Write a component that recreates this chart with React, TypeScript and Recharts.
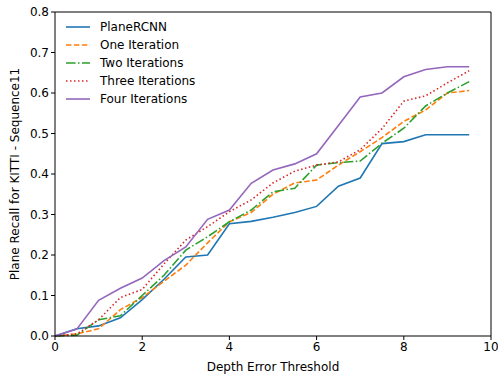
import React from "react";
import { LineChart, Line, XAxis, YAxis, ReferenceLine, Label } from "recharts";

const thresholds = [0, 0.5, 1, 1.5, 2, 2.5, 3, 3.5, 4, 4.5, 5, 5.5, 6, 6.5, 7, 7.5, 8, 8.5, 9, 9.5];
const planeRcnn = [0, 0.018, 0.025, 0.045, 0.09, 0.14, 0.195, 0.2, 0.277, 0.283, 0.293, 0.305, 0.32, 0.37, 0.39, 0.475, 0.48, 0.497, 0.497, 0.497];
const oneIter = [0, 0.005, 0.018, 0.065, 0.095, 0.135, 0.175, 0.23, 0.282, 0.305, 0.35, 0.378, 0.385, 0.422, 0.455, 0.49, 0.53, 0.558, 0.6, 0.606];
const twoIter = [0, 0.002, 0.04, 0.05, 0.1, 0.15, 0.212, 0.245, 0.282, 0.311, 0.356, 0.365, 0.422, 0.428, 0.432, 0.476, 0.513, 0.568, 0.6, 0.628];
const threeIter = [0, 0.005, 0.04, 0.095, 0.115, 0.178, 0.237, 0.27, 0.307, 0.336, 0.378, 0.407, 0.422, 0.43, 0.46, 0.512, 0.58, 0.593, 0.625, 0.655];
const fourIter = [0, 0.017, 0.088, 0.118, 0.143, 0.186, 0.22, 0.288, 0.311, 0.377, 0.41, 0.425, 0.45, 0.52, 0.59, 0.6, 0.64, 0.658, 0.665, 0.665];

const xTicks = [0, 2, 4, 6, 8, 10];
const yTicks = [0, 0.1, 0.2, 0.3, 0.4, 0.5, 0.6, 0.7, 0.8];

const data = thresholds.map((t, i) => ({
  t,
  plane: planeRcnn[i],
  one: oneIter[i],
  two: twoIter[i],
  three: threeIter[i],
  four: fourIter[i],
}));

const series = [
  { key: "plane", name: "PlaneRCNN", color: "#1f77b4", dash: undefined },
  { key: "one", name: "One Iteration", color: "#ff7f0e", dash: "5.5 2.4" },
  { key: "two", name: "Two Iterations", color: "#2ca02c", dash: "9.6 2.4 1.5 2.4" },
  { key: "three", name: "Three Iterations", color: "#d62728", dash: "1.5 2.5" },
  { key: "four", name: "Four Iterations", color: "#9467bd", dash: undefined },
];

const font = "'DejaVu Sans', sans-serif";

// matplotlib-style legend, drawn over the plot area
function LegendBox() {
  return (
    <div style={{ position: "absolute", left: 66, top: 18, fontFamily: font, fontSize: 12, color: "#000", pointerEvents: "none" }}>
      {series.map((s) => (
        <div key={s.key} style={{ display: "flex", alignItems: "center", height: 18 }}>
          <svg width={24} height={6} style={{ marginRight: 10 }}>
            <line x1={0} y1={3} x2={24} y2={3} stroke={s.color} strokeWidth={1.6} strokeDasharray={s.dash} />
          </svg>
          <span>{s.name}</span>
        </div>
      ))}
    </div>
  );
}

export default function App() {
  const tick = { fill: "#000", fontSize: 12, fontFamily: font };
  return (
    <div style={{ position: "fixed", left: 0, top: 0, width: 498, height: 378, background: "#fff" }}>
      <LineChart width={498} height={378} data={data} margin={{ top: 12, right: 7, left: 0, bottom: 0 }}>
        <XAxis
          dataKey="t"
          type="number"
          domain={[0, 10]}
          ticks={xTicks}
          tick={tick}
          height={42}
          stroke="#000"
          tickSize={4}
        >
          <Label value="Depth Error Threshold" position="insideBottom" offset={7} style={{ fontSize: 12, fontFamily: font, fill: "#000" }} />
        </XAxis>
        <YAxis
          type="number"
          domain={[0, 0.8]}
          ticks={yTicks}
          tick={tick}
          width={55}
          stroke="#000"
          tickSize={4}
          tickFormatter={(v: number) => v.toFixed(1)}
        >
          <Label
            value="Plane Recall for KITTI - Sequence11"
            angle={-90}
            position="insideLeft"
            offset={15}
            style={{ fontSize: 12, fontFamily: font, fill: "#000", textAnchor: "middle" }}
          />
        </YAxis>
        <ReferenceLine y={0.8} stroke="#000" />
        <ReferenceLine x={10} stroke="#000" />
        {series.map((s) => (
          <Line
            key={s.key}
            dataKey={s.key}
            name={s.name}
            stroke={s.color}
            strokeWidth={1.6}
            strokeDasharray={s.dash}
            dot={false}
            type="linear"
            isAnimationActive={false}
          />
        ))}
      </LineChart>
      <LegendBox />
    </div>
  );
}
